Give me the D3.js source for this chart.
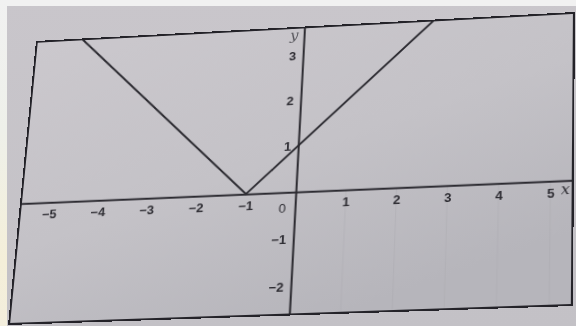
<!DOCTYPE html>
<html>
<head>
<meta charset="utf-8">
<script src="https://cdn.jsdelivr.net/npm/d3@7"></script>
<style>
  html, body { margin: 0; padding: 0; }
  body { width: 576px; height: 326px; overflow: hidden; position: relative;
         background: linear-gradient(180deg, #c9c6cb 0%, #c3c1c6 100%); }
  #topstrip { position: absolute; left: 0; top: 0; width: 576px; height: 6px; background: #f1f1f1; }
  #leftstrip { position: absolute; left: 0; top: 0; width: 7px; height: 326px;
               background: linear-gradient(180deg, #f1f1f1 0%, #eef0ea 40%, #f4efd9 80%, #f3eedd 100%); }
  #chart { position: absolute; left: 0; top: 0; transform-origin: 0 0; }
</style>
</head>
<body>
<div id="topstrip"></div>
<div id="leftstrip"></div>
<svg id="chart"></svg>
<script>
// values: y = |x + 1|
let xTicks = [-5, -4, -3, -2, -1, 1, 2, 3, 4, 5]
let yTicks = [-2, -1, 1, 2, 3]
let lineX = [-4.65, -1, 2.65]
let lineY = [3.65, 0, 3.65]
let xDomain = [-5.62, 5.45]
let yDomain = [-2.6, 3.65]

let W = 550
let H = 300

// corners of the printed frame in the photo (tl, tr, br, bl)
let quad = [[36, 41], [575, 12], [573, 306], [8, 325]]

let svg = d3.select('#chart').attr('width', W).attr('height', H)

let x = d3.scaleLinear().domain(xDomain).range([0, W])
let y = d3.scaleLinear().domain(yDomain).range([H, 0])

let defs = svg.append('defs')
let grad = defs.append('linearGradient').attr('id', 'paper')
    .attr('x1', 0).attr('y1', 0).attr('x2', 0.6).attr('y2', 1)
grad.append('stop').attr('offset', '0%').attr('stop-color', '#cbc8cd')
grad.append('stop').attr('offset', '55%').attr('stop-color', '#c4c2c7')
grad.append('stop').attr('offset', '100%').attr('stop-color', '#b6b5bb')

svg.append('rect').attr('width', W).attr('height', H).attr('fill', 'url(#paper)')

// faint grid lines in lower half
svg.append('g').selectAll('line')
    .data(xTicks.filter(d => d > 0))
    .enter()
    .append('line')
    .attr('x1', d => x(d)).attr('x2', d => x(d))
    .attr('y1', y(0)).attr('y2', H)
    .attr('stroke', '#a9a8ae')
    .attr('stroke-width', 1)
    .attr('opacity', 0.4)

// axes
let fmt = d3.format('d')
let xAxis = d3.axisBottom(x).tickValues(xTicks).tickFormat(fmt).tickSize(0).tickSizeOuter(0).tickPadding(8)
let yAxis = d3.axisLeft(y).tickValues(yTicks).tickFormat(fmt).tickSize(0).tickSizeOuter(0).tickPadding(7)

let gx = svg.append('g').attr('transform', 'translate(0,' + y(0) + ')').call(xAxis)
let gy = svg.append('g').attr('transform', 'translate(' + x(0) + ',0)').call(yAxis)

for (let g of [gx, gy]) {
    g.select('.domain').attr('stroke', '#2b2a30').attr('stroke-width', 2)
    g.selectAll('text')
        .attr('fill', '#2e2d33')
        .style('font-family', '"Liberation Sans", Arial, sans-serif')
        .style('font-size', '13px')
        .style('font-weight', 'bold')
}

svg.append('text')
    .attr('x', x(0) - 9).attr('y', y(0) + 21)
    .attr('text-anchor', 'end')
    .attr('fill', '#2e2d33')
    .style('font-family', '"Liberation Sans", Arial, sans-serif')
    .style('font-size', '13px')
    .text('0')

svg.append('text')
    .attr('x', W - 8).attr('y', y(0) + 14)
    .attr('text-anchor', 'middle')
    .attr('fill', '#2e2d33')
    .style('font-family', '"DejaVu Serif", serif')
    .style('font-style', 'italic')
    .style('font-size', '15px')
    .text('x')

svg.append('text')
    .attr('x', x(0) - 10).attr('y', 14)
    .attr('text-anchor', 'middle')
    .attr('fill', '#55545a')
    .style('font-family', '"DejaVu Serif", serif')
    .style('font-style', 'italic')
    .style('font-size', '15px')
    .text('y')

// the graph
let line = d3.line().x(d => x(d[0])).y(d => y(d[1]))
svg.append('path')
    .datum(lineX.map((v, i) => [v, lineY[i]]))
    .attr('d', line)
    .attr('fill', 'none')
    .attr('stroke', '#2b2a30')
    .attr('stroke-width', 2)

// frame
svg.append('rect')
    .attr('x', 1).attr('y', 1).attr('width', W - 2).attr('height', H - 2)
    .attr('fill', 'none')
    .attr('stroke', '#242329')
    .attr('stroke-width', 2)

// perspective of the photo: square-to-quad homography
let homography = (q) => {
    let [x0, y0] = q[0], [x1, y1] = q[1], [x2, y2] = q[2], [x3, y3] = q[3]
    let dx1 = x1 - x2, dx2 = x3 - x2, dx3 = x0 - x1 + x2 - x3
    let dy1 = y1 - y2, dy2 = y3 - y2, dy3 = y0 - y1 + y2 - y3
    let den = dx1 * dy2 - dx2 * dy1
    let g = (dx3 * dy2 - dx2 * dy3) / den
    let h = (dx1 * dy3 - dx3 * dy1) / den
    let a = x1 - x0 + g * x1, b = x3 - x0 + h * x3, c = x0
    let d = y1 - y0 + g * y1, e = y3 - y0 + h * y3, f = y0
    return [a / W, d / W, 0, g / W, b / H, e / H, 0, h / H, 0, 0, 1, 0, c, f, 0, 1]
}
d3.select('#chart').style('transform', 'matrix3d(' + homography(quad).join(',') + ')')
</script>
</body>
</html>
